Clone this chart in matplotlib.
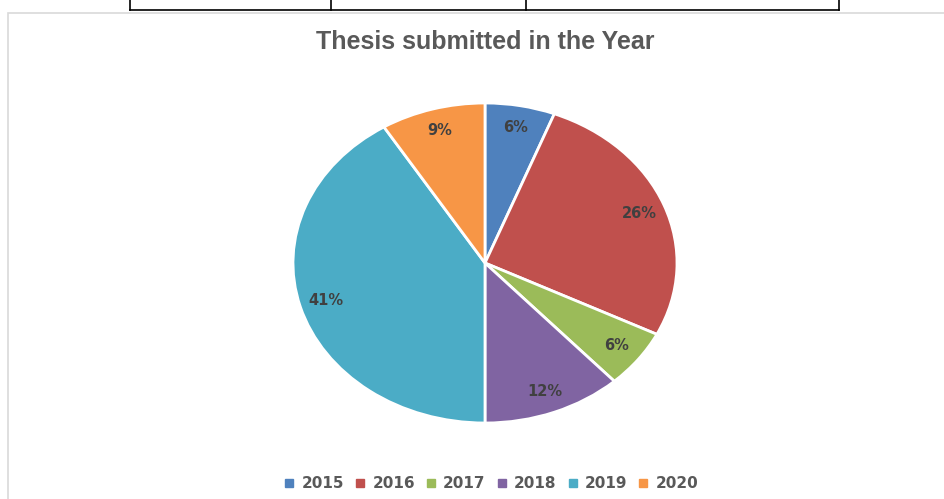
import matplotlib
matplotlib.use("Agg")
import matplotlib.pyplot as plt
from matplotlib.lines import Line2D
from matplotlib.patches import Rectangle

years = ["2015", "2016", "2017", "2018", "2019", "2020"]
counts = [2, 9, 2, 4, 14, 3]
colors = ["#4F81BD", "#C0504D", "#9BBB59", "#8064A2", "#4BACC6", "#F79646"]
title = "Thesis submitted in the Year"

W, H = 945, 499
fig = plt.figure(figsize=(W / 100, H / 100), dpi=100)
fig.patch.set_facecolor("white")

# chart frame
fig.add_artist(Rectangle((8 / W, -0.01), 1.0, 1 - 13 / H + 0.01, transform=fig.transFigure,
                         fill=False, edgecolor="#D9D9D9", linewidth=1.2))
# table lines at top
ty = 1 - 10 / H
fig.add_artist(Line2D([130 / W, 839 / W], [ty, ty], transform=fig.transFigure, color="black", lw=1.2))
for x in [130, 331, 526, 839]:
    fig.add_artist(Line2D([x / W, x / W], [ty, 1.0], transform=fig.transFigure, color="black", lw=1.2))

cx, cy, rx, ry = 485, 263, 192, 160
ax = fig.add_axes([(cx - rx) / W, (H - cy - ry) / H, 2 * rx / W, 2 * ry / H])
wedges, texts, autotexts = ax.pie(
    counts, colors=colors, startangle=90, counterclock=False,
    autopct=lambda p: f"{p:.0f}%", pctdistance=0.86,
    wedgeprops=dict(edgecolor="white", linewidth=2),
    textprops=dict(color="#404040", fontsize=10.5, fontweight="semibold", family="DejaVu Sans"))
ax.set_aspect("auto")
ax.set_xlim(-1, 1)
ax.set_ylim(-1, 1)
ax.axis("off")

fig.text(485 / W, 1 - 42 / H, title, ha="center", va="center", fontsize=18,
         fontweight="bold", color="#595959", family="Liberation Sans")

handles = [Line2D([], [], marker="s", linestyle="", markersize=6, markerfacecolor=c,
                  markeredgecolor=c) for c in colors]
leg = fig.legend(handles, years, loc="center", bbox_to_anchor=(490 / W, 1 - 484 / H),
                 ncol=6, frameon=False, handletextpad=0.3, columnspacing=0.55,
                 handlelength=1.0, prop=dict(size=11, weight="bold", family="DejaVu Sans"))
for t in leg.get_texts():
    t.set_color("#595959")

fig.savefig("out.png", dpi=100, facecolor="white")
